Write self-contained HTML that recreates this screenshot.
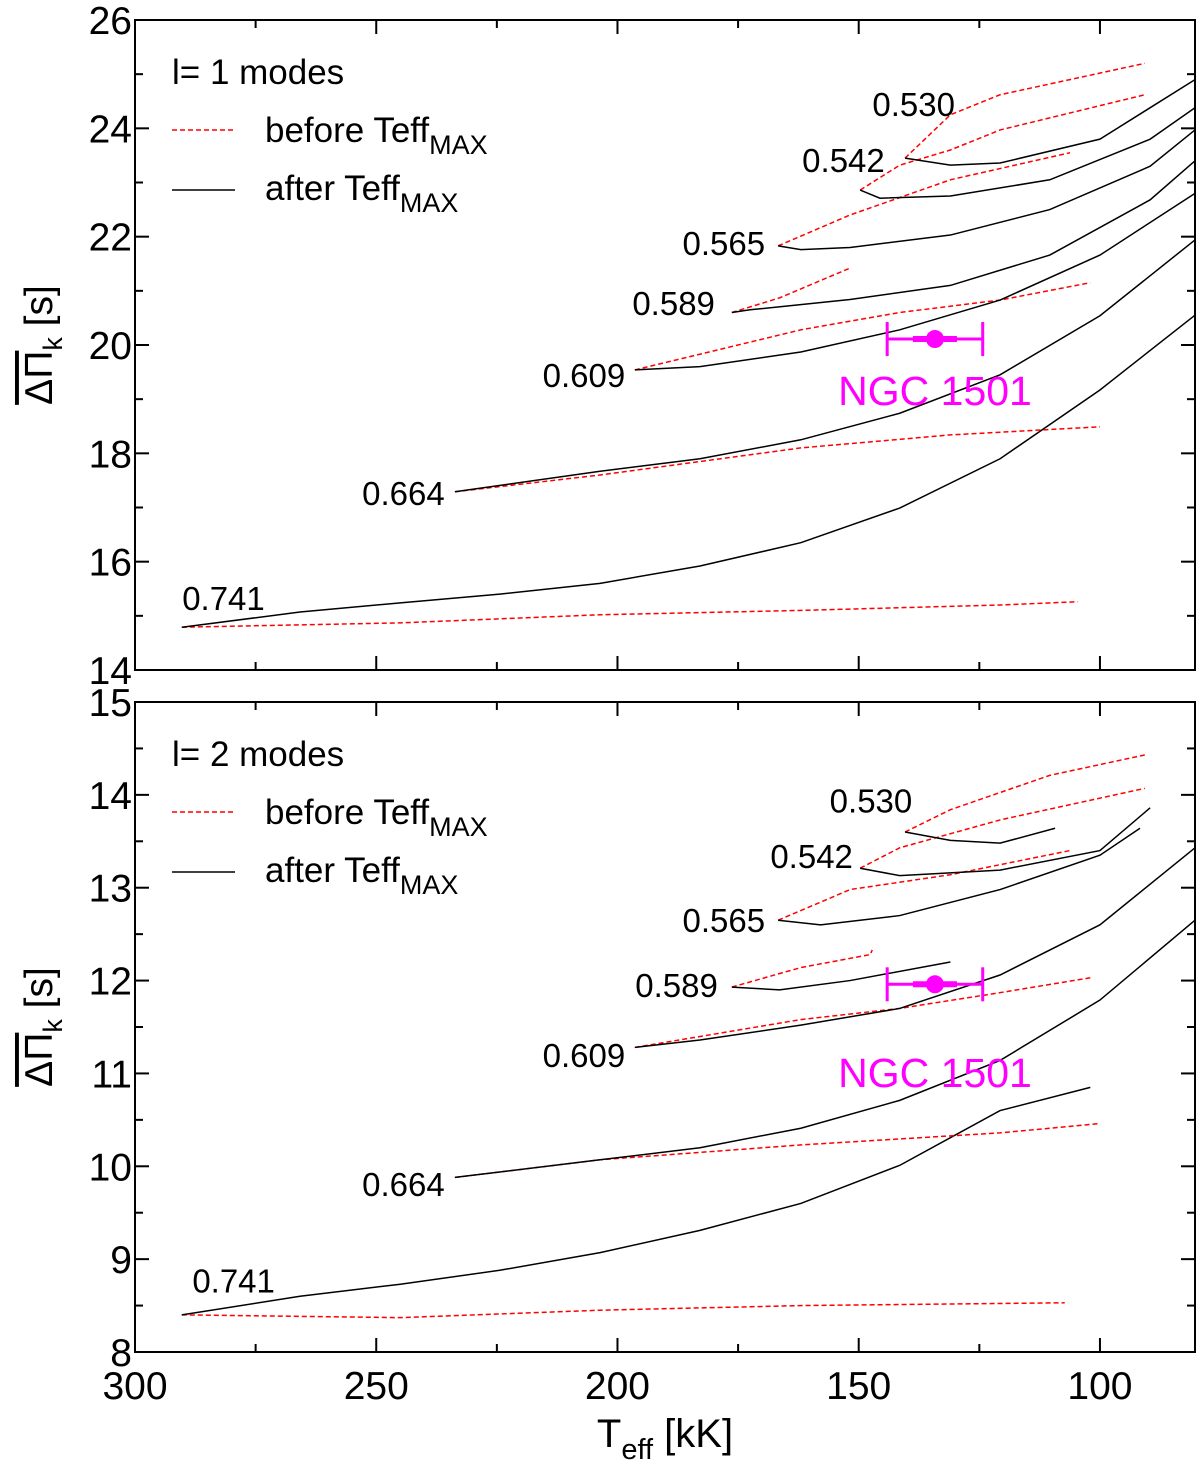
<!DOCTYPE html>
<html><head><meta charset="utf-8">
<style>
html,body{margin:0;padding:0;background:#fff;}
svg{display:block;font-family:"Liberation Sans",sans-serif;}
</style></head>
<body>
<svg id="chart" width="1200" height="1467" viewBox="0 0 1200 1467" xmlns="http://www.w3.org/2000/svg"></svg>
<script>
// ---- data: l=1 panel ----
const masses = ["0.741","0.664","0.609","0.589","0.565","0.542","0.530"];
const top_before_T = [
 [290.3,245,203.6,162,120.7,104.6],
 [233.7,203.6,162,131,100],
 [196.4,162,141.5,120.7,102],
 [176.3,166.4,151.8],
 [166.7,151.8,131,106.2],
 [149.7,141.5,131,120.7,90.7],
 [140.4,131,120.7,90.7]
];
const top_before_P = [
 [14.79,14.87,15.02,15.10,15.20,15.26],
 [17.29,17.60,18.10,18.34,18.49],
 [19.54,20.28,20.60,20.83,21.15],
 [20.60,20.87,21.42],
 [21.83,22.40,23.05,23.55],
 [22.86,23.32,23.60,23.97,24.62],
 [23.45,24.25,24.62,25.20]
];
const top_after_T = [
 [290.3,265.8,245,224.4,203.6,182.9,162,141.5,120.7,100,80.3],
 [233.7,203.6,182.9,162,141.5,120.7,100,80.3],
 [196.4,182.9,162,141.5,120.7,100,80.3],
 [176.3,172.5,151.8,131,110.4,89.6,80.3],
 [166.7,162,151.8,131,110.4,89.6,80.3],
 [149.7,145.6,131,110.4,89.6,80.3],
 [140.4,131,120.7,100,80.3]
];
const top_after_P = [
 [14.79,15.07,15.24,15.40,15.60,15.92,16.35,16.99,17.90,19.17,20.55],
 [17.29,17.67,17.90,18.25,18.74,19.45,20.54,21.94],
 [19.54,19.60,19.87,20.28,20.83,21.66,22.80],
 [20.60,20.65,20.84,21.10,21.66,22.68,23.40],
 [21.83,21.76,21.80,22.03,22.50,23.30,23.97],
 [22.86,22.71,22.75,23.05,23.80,24.38],
 [23.45,23.32,23.36,23.80,24.90]
];
// ---- data: l=2 panel ----
const bot_before_T = [
 [290.3,245,203.6,162,107.3],
 [233.7,203.6,162,120.7,100],
 [196.4,162,141.5,120.7,102],
 [176.3,162,147.6,147.2],
 [166.7,151.8,131,106.2],
 [149.7,141.5,120.7,90.7],
 [140.4,131,110.4,90.7]
];
const bot_before_P = [
 [8.40,8.37,8.45,8.50,8.53],
 [9.88,10.07,10.23,10.36,10.46],
 [11.28,11.58,11.70,11.87,12.03],
 [11.93,12.14,12.28,12.33],
 [12.65,12.98,13.14,13.40],
 [13.21,13.43,13.73,14.07],
 [13.60,13.84,14.21,14.43]
];
const bot_after_T = [
 [290.3,265.8,245,224.4,203.6,182.9,162,141.5,120.7,102],
 [233.7,203.6,182.9,162,141.5,120.7,100,80.3],
 [196.4,182.9,162,141.5,120.7,100,80.3],
 [176.3,166.4,151.8,131],
 [166.7,157.9,141.5,120.7,100,91.7],
 [149.7,141.5,120.7,100,89.6],
 [140.4,131,120.7,109.3]
];
const bot_after_P = [
 [8.40,8.60,8.73,8.88,9.07,9.31,9.60,10.01,10.60,10.85],
 [9.88,10.07,10.20,10.41,10.71,11.14,11.79,12.65],
 [11.28,11.36,11.52,11.70,12.06,12.60,13.43],
 [11.93,11.90,12.00,12.20],
 [12.65,12.60,12.70,12.98,13.35,13.64],
 [13.21,13.13,13.19,13.40,13.86],
 [13.60,13.51,13.48,13.64]
];
// label anchor = right edge of the text, vertical centre
const top_label_T = [273.1,235.8,198.4,179.8,169.4,144.6,130.05];
const top_label_P = [15.33,17.27,19.45,20.78,21.88,23.42,24.45];
const bot_label_T = [271,235.8,198.4,179.2,169.4,151.2,138.9];
const bot_label_P = [8.77,9.81,11.2,11.95,12.65,13.34,13.94];
const ngc_T = [134.2];
const ngc_T_lo = [144.1];
const ngc_T_hi = [124.3];
const ngc_top_P = [20.11];
const ngc_bot_P = [11.96];
const xTicks = [300,250,200,150,100];
const topYTicks = [14,16,18,20,22,24,26];
const botYTicks = [8,9,10,11,12,13,14,15];

const NS="http://www.w3.org/2000/svg";
const svg=document.getElementById('chart');
const X0=135, X1=1195;
const xs = t => X0 + (300 - t) * (X1 - X0) / (300 - 80.3);
function mk(tag, attrs, parent){
  const e=document.createElementNS(NS,tag);
  for(const k in attrs) e.setAttribute(k,attrs[k]);
  (parent||svg).appendChild(e); return e;
}
function panel(name, yTop, yBot, pMin, pMax, ticks, minorStep, bT,bP,aT,aP,lT,lP,ngcP,modeLabel,ngcLabelY){
  const ys = p => yBot - (p - pMin) * (yBot - yTop) / (pMax - pMin);
  const g=mk('g',{});
  
  
  const fr=mk('rect',{x:X0,y:yTop,width:X1-X0,height:yBot-yTop,fill:'none',stroke:'#000','stroke-width':2},g);
  
  
  for(let t=300;t>=80.3;t-=25){
    const major = (t%50===0);
    const L = major?14:8;
    const x=xs(t);
    mk('line',{x1:x,y1:yBot,x2:x,y2:yBot-L,stroke:'#000','stroke-width':2},g);
    mk('line',{x1:x,y1:yTop,x2:x,y2:yTop+L,stroke:'#000','stroke-width':2},g);
  }
  for(let p=pMin;p<=pMax+1e-9;p+=minorStep){
    const major = ticks.some(v=>Math.abs(v-p)<1e-6);
    const L = major?14:8;
    const y=ys(p);
    mk('line',{x1:X0,y1:y,x2:X0+L,y2:y,stroke:'#000','stroke-width':2},g);
    mk('line',{x1:X1,y1:y,x2:X1-L,y2:y,stroke:'#000','stroke-width':2},g);
  }
  ticks.forEach(v=>{
    const t=mk('text',{x:X0-3,y:ys(v)+14,'text-anchor':'end','font-size':39},g);
    t.textContent=v;
    
    
  });
  for(let i=0;i<masses.length;i++){
    const pb=bT[i].map((t,j)=>xs(t)+','+ys(bP[i][j])).join(' ');
    const r=mk('polyline',{points:pb,fill:'none',stroke:'#ff0000','stroke-width':1.5,'stroke-dasharray':'5,3'},g);
    
    
    const pa=aT[i].map((t,j)=>xs(t)+','+ys(aP[i][j])).join(' ');
    const b=mk('polyline',{points:pa,fill:'none',stroke:'#000','stroke-width':1.5},g);
    
    
    const lb=mk('text',{x:xs(lT[i]),y:ys(lP[i])+12,'font-size':33,'text-anchor':'end'},g);
    lb.textContent=masses[i];
    
    
  }
  const ny=ys(ngcP[0]);
  const eg=mk('g',{stroke:'#ff00ff','stroke-width':3},g);
  
  
  mk('line',{x1:xs(ngc_T_lo[0]),y1:ny,x2:xs(ngc_T_hi[0]),y2:ny},eg);
  mk('line',{x1:xs(ngc_T_lo[0]),y1:ny-17,x2:xs(ngc_T_lo[0]),y2:ny+17},eg);
  mk('line',{x1:xs(ngc_T_hi[0]),y1:ny-17,x2:xs(ngc_T_hi[0]),y2:ny+17},eg);
  mk('line',{x1:xs(ngc_T[0])-22,y1:ny,x2:xs(ngc_T[0])+22,y2:ny,'stroke-width':6},eg);
  const c=mk('circle',{cx:xs(ngc_T[0]),cy:ny,r:9,fill:'#ff00ff'},g);
  
  
  const nl=mk('text',{x:935,y:ngcLabelY,'text-anchor':'middle','font-size':41,fill:'#ff00ff'},g);
  nl.textContent='NGC 1501';
  
  
  const lg=mk('g',{},g);
  
  
  const ly=yTop+52;
  const t0=mk('text',{x:172,y:ly+12,'font-size':35},lg); t0.textContent=modeLabel;
  mk('line',{x1:172,y1:ly+58,x2:235,y2:ly+58,stroke:'#ff0000','stroke-width':1.5,'stroke-dasharray':'5,3'},lg);
  const t1=mk('text',{x:265,y:ly+70,'font-size':35},lg);
  t1.innerHTML='before Teff<tspan dy="12" font-size="27">MAX</tspan>';
  mk('line',{x1:172,y1:ly+118,x2:235,y2:ly+118,stroke:'#000','stroke-width':1.5},lg);
  const t2=mk('text',{x:265,y:ly+128,'font-size':35},lg);
  t2.innerHTML='after Teff<tspan dy="12" font-size="27">MAX</tspan>';
  const yc=(yTop+yBot)/2;
  const yt=mk('text',{x:0,y:0,'font-size':39,transform:`translate(52,${yc}) rotate(-90)`,'text-anchor':'middle'},g);
  yt.innerHTML='<tspan text-decoration="overline">ΔΠ</tspan><tspan dy="10" font-size="27">k</tspan><tspan dy="-10"> [s]</tspan>';
  
  
}
panel('top',20,670,14,26,topYTicks,1,top_before_T,top_before_P,top_after_T,top_after_P,top_label_T,top_label_P,ngc_top_P,'l= 1 modes',405);
panel('bottom',702,1352,8,15,botYTicks,0.5,bot_before_T,bot_before_P,bot_after_T,bot_after_P,bot_label_T,bot_label_P,ngc_bot_P,'l= 2 modes',1087);
xTicks.forEach(v=>{
  const t=mk('text',{x:xs(v),y:1399,'text-anchor':'middle','font-size':39});
  t.textContent=v;
  
  
});
const xt=mk('text',{x:665,y:1447,'text-anchor':'middle','font-size':40});
xt.innerHTML='T<tspan dy="12" font-size="29">eff</tspan><tspan dy="-12"> [kK]</tspan>';


</script>
</body></html>
